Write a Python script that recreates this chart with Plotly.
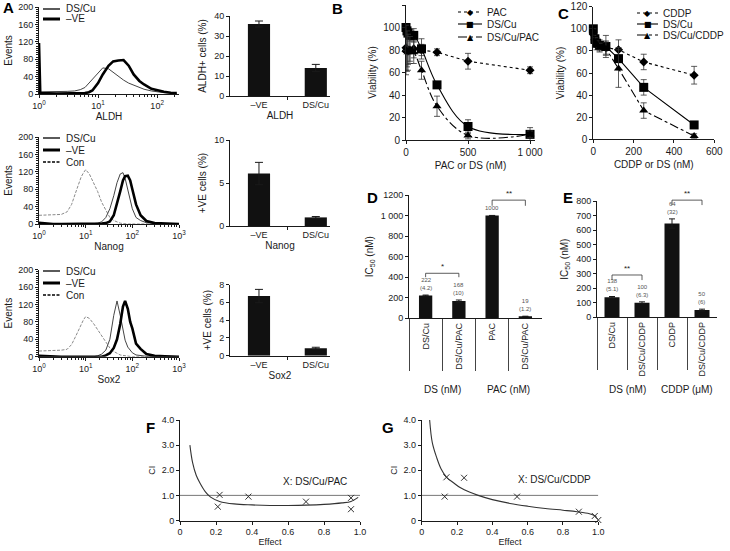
import plotly.graph_objects as go

W, H = 730, 551
FONT = "Liberation Sans, Arial, sans-serif"
SYMFONT = "DejaVu Sans"
INK = "#1a1a1a"

# ---------------- data ----------------
# Panel A - flow cytometry histograms (fluorescence intensity vs events)
aldh_fl = [1, 1.05, 2, 3, 4, 5, 6, 7, 8, 10, 12, 15, 18, 22, 27, 33, 40, 50, 60, 80, 100, 130, 170, 215]
aldh_dscu = [5, 5, 5, 6, 7, 10, 15, 25, 35, 50, 60, 58, 50, 40, 32, 25, 20, 15, 11, 7, 5, 3, 2, 1]
aldh_ve = [117, 2, 1, 1, 1, 1, 2, 4, 8, 25, 45, 65, 75, 77, 78, 65, 45, 30, 22, 12, 8, 5, 3, 2]

marker_fl = [1, 2, 3, 4, 5, 6, 7, 8, 9, 10, 12, 15, 18, 22, 27, 33, 40, 47, 55, 63,
             70, 80, 90, 100, 120, 150, 200, 300, 500, 1000]
nanog_con = [20, 22, 22, 28, 45, 70, 90, 108, 118, 125, 115, 95, 75, 50, 32, 15, 8, 4, 2, 1,
             0, 0, 0, 0, 0, 0, 0, 0, 0, 0]
nanog_dscu = [0, 0, 0, 0, 0, 0, 0, 0, 0, 0, 0, 1, 2, 5, 15, 35, 65, 95, 115, 118,
              105, 80, 55, 35, 15, 8, 3, 1, 0, 0]
nanog_ve = [3, 0, 0, 0, 0, 0, 0, 0, 0, 0, 0, 0, 0, 1, 2, 6, 20, 45, 75, 100,
            110, 111, 100, 80, 45, 20, 7, 2, 1, 0]
sox2_con = [13, 14, 15, 17, 28, 45, 60, 75, 85, 92, 88, 75, 62, 50, 35, 20, 12, 7, 4, 3,
            2, 1, 0, 0, 0, 0, 0, 0, 0, 0]
sox2_dscu = [0, 0, 0, 0, 0, 0, 0, 0, 0, 0, 0, 0, 2, 6, 15, 40, 95, 128, 95, 60,
             38, 22, 14, 9, 4, 2, 1, 0, 0, 0]
sox2_ve = [2, 0, 0, 0, 0, 0, 0, 0, 0, 0, 0, 0, 0, 0, 3, 8, 20, 40, 75, 115,
           128, 110, 80, 65, 30, 18, 6, 2, 1, 0]

# Panel A - bar charts
bar_groups = ["–VE", "DS/Cu"]
aldh_pct = [36, 14]
aldh_err = [1.5, 1.8]
nanog_pct = [6.1, 1.0]
nanog_err = [1.3, 0.1]
sox2_pct = [6.7, 0.85]
sox2_err = [0.75, 0.1]

# Panel B - viability vs PAC or DS (nM)
b_conc = [0, 7.8, 15.6, 31.25, 62.5, 125, 250, 500, 1000]
b_pac = [82, 80, 79, 80, 81, 80, 78, 70, 62]
b_pac_err = [20, 15, 12, 10, 8, 5, 3, 7, 3]
b_dscu = [100, 97, 95, 93, 93, 81, 49, 12, 5]
b_dscu_err = [2, 3, 4, 5, 6, 9, 3, 6, 6]
b_combo = [80, 79, 78, 80, 78, 62, 30, 4, 5]
b_combo_err = [22, 18, 16, 12, 10, 8, 9, 3, 3]

# Panel C - viability vs CDDP or DS (nM)
c_conc = [0, 7.8, 15.6, 31.25, 62.5, 125, 250, 500]
c_cddp = [95, 90, 88, 85, 83, 81, 70, 58]
c_cddp_err = [3, 4, 4, 5, 6, 9, 7, 8]
c_dscu = [100, 91, 87, 85, 84, 73, 47, 13]
c_dscu_err = [2, 3, 4, 4, 10, 10, 7, 2]
c_combo = [97, 88, 85, 83, 82, 64, 26, 3]
c_combo_err = [3, 4, 4, 4, 6, 17, 7, 2]

# Panel D - IC50
d_cats = ["DS/Cu", "DS/Cu/PAC", "PAC", "DS/Cu/PAC"]
d_ic50 = [222, 168, 1000, 19]
d_sd = [4.2, 10, 1.2, 1.2]
d_labels = ["222<br>(4.2)", "168<br>(10)", "1000", "19<br>(1.2)"]
d_groups = ["DS (nM)", "PAC (nM)"]
d_sig = [(0, 1, "*", 400, 438), (2, 3, "**", 1095, 1150)]

# Panel E - IC50
e_cats = ["DS/Cu", "DS/Cu/CDDP", "CDDP", "DS/Cu/CDDP"]
e_ic50 = [138, 100, 645, 50]
e_sd = [5.1, 6.3, 32, 6]
e_labels = ["138<br>(5.1)", "100<br>(6.3)", "64<br>(32)", "50<br>(6)"]
e_groups = ["DS (nM)", "CDDP (μM)"]
e_sig = [(0, 1, "**", 256, 291), (2, 3, "**", 772, 806)]

# Panels F, G - combination index vs effect
f_eff_curve = [0.055, 0.07, 0.09, 0.11, 0.14, 0.17, 0.22, 0.3, 0.4, 0.5, 0.6, 0.7, 0.8, 0.9, 0.95, 0.99]
f_ci_curve = [3.0, 2.3, 1.8, 1.5, 1.15, 0.93, 0.76, 0.66, 0.62, 0.6, 0.6, 0.61, 0.64, 0.7, 0.76, 0.92]
f_eff_pts = [0.21, 0.22, 0.38, 0.70, 0.95, 0.95]
f_ci_pts = [0.55, 1.02, 0.95, 0.75, 0.9, 0.45]
g_eff_curve = [0.045, 0.06, 0.085, 0.11, 0.14, 0.18, 0.22, 0.27, 0.32, 0.4, 0.5, 0.6, 0.7, 0.8, 0.88, 0.95, 0.99]
g_ci_curve = [4.0, 3.1, 2.5, 2.05, 1.73, 1.5, 1.3, 1.13, 1.0, 0.83, 0.68, 0.57, 0.48, 0.41, 0.35, 0.27, 0.16]
g_eff_pts = [0.13, 0.14, 0.24, 0.54, 0.89, 0.98, 1.0]
g_ci_pts = [0.95, 1.72, 1.7, 0.95, 0.35, 0.18, 0.02]
additive_eff = [0, 1]
additive_ci = [1, 1]


# ---------------- helpers ----------------
def xd(a, b):
    return [a / W, b / W]


def yd(top, bottom):
    return [1 - bottom / H, 1 - top / H]


def px(x):
    return x / W


def py(y):
    return 1 - y / H


def xa(n):
    return "x" if n == 1 else f"x{n}"


def ya(n):
    return "y" if n == 1 else f"y{n}"


def xk(n):
    return "xaxis" if n == 1 else f"xaxis{n}"


def yk(n):
    return "yaxis" if n == 1 else f"yaxis{n}"


def val_to_paper(v, rng, dom):
    return dom[0] + (v - rng[0]) / (rng[1] - rng[0]) * (dom[1] - dom[0])


def base(size=9, **kw):
    d = dict(showline=True, linecolor=INK, linewidth=1, ticks="outside", ticklen=3,
             tickwidth=1, tickcolor=INK, showgrid=False, zeroline=False, automargin=False,
             tickfont=dict(size=size, color=INK, family=FONT))
    d.update(kw)
    return d


def ttl(text, standoff=4, size=10):
    return dict(text=text, standoff=standoff, font=dict(size=size, color=INK, family=FONT))


fig = go.Figure()
layout = dict(template="none", width=W, height=H, margin=dict(l=0, r=0, t=0, b=0, autoexpand=False),
              paper_bgcolor="white", plot_bgcolor="rgba(0,0,0,0)",
              font=dict(family=FONT, size=10, color=INK), showlegend=False)
annotations = []
shapes = []


def legend_block(entries, x0, x1, xt, ys, size=10):
    """entries: list of (label, dash, width, symbol)"""
    for (label, dash, width, sym), y in zip(entries, ys):
        shapes.append(dict(type="line", xref="paper", yref="paper", x0=px(x0), x1=px(x1),
                           y0=py(y), y1=py(y), line=dict(color="#000", width=width, dash=dash)))
        if sym:
            annotations.append(dict(x=px((x0 + x1) / 2), y=py(y), xref="paper", yref="paper", text=sym,
                                    showarrow=False, xanchor="center", yanchor="middle",
                                    font=dict(size=8, color="#000", family=SYMFONT)))
        annotations.append(dict(x=px(xt), y=py(y), xref="paper", yref="paper", text=label,
                                showarrow=False, xanchor="left", yanchor="middle",
                                font=dict(size=size, color=INK, family=FONT)))


# ---------------- Panel A histograms ----------------
log_minor = [m * 10 ** e for e in range(0, 3) for m in range(2, 10)]
hist_specs = [
    (1, aldh_fl, aldh_dscu, aldh_ve, None, 7, 94, 2.37, "ALDH", [1, 10, 100], [9, 19]),
    (2, marker_fl, nanog_dscu, nanog_ve, nanog_con, 137, 224, 3.0, "Nanog", [1, 10, 100, 1000], [138, 150, 162]),
    (3, marker_fl, sox2_dscu, sox2_ve, sox2_con, 269.6, 356.7, 3.0, "Sox2", [1, 10, 100, 1000], [271, 283, 295]),
]
for n, xs, dscu, ve, con, top, bot, xmax, label, tv, lys in hist_specs:
    if con is not None:
        fig.add_trace(go.Scatter(x=xs, y=con, mode="lines", name="Con",
                                 line=dict(color="#8a8a8a", width=1, dash="3px,1.5px"),
                                 xaxis=xa(n), yaxis=ya(n)))
    fig.add_trace(go.Scatter(x=xs, y=dscu, mode="lines", name="DS/Cu",
                             line=dict(color="#444", width=1), xaxis=xa(n), yaxis=ya(n)))
    fig.add_trace(go.Scatter(x=xs, y=ve, mode="lines", name="–VE",
                             line=dict(color="#000", width=2.6), xaxis=xa(n), yaxis=ya(n)))
    entries = [("DS/Cu", "solid", 1.3, None), ("–VE", "solid", 3, None)]
    if con is not None:
        entries.append(("Con", "3px,1.5px", 1.3, None))
    legend_block(entries, 43, 60, 64, lys, size=10)
    layout[xk(n)] = base(domain=xd(39, 179), anchor=ya(n), type="log", range=[0, xmax],
                         tickvals=tv, ticktext=[f"10<sup>{i}</sup>" for i in range(len(tv))],
                         minor=dict(tickvals=log_minor, ticks="outside", ticklen=2, tickcolor=INK),
                         title=ttl(label, 3))
    layout[yk(n)] = base(domain=yd(top, bot), anchor=xa(n), range=[0, 200], tick0=0, dtick=40,
                         minor=dict(dtick=5, ticks="outside", ticklen=2, tickcolor=INK),
                         title=ttl("Events", 3))

# ---------------- Panel A bars ----------------
bar_specs = [
    (4, aldh_pct, aldh_err, 16, 96, [0, 40], 10, "ALDH+ cells (%)", "ALDH"),
    (5, nanog_pct, nanog_err, 140, 226, [0, 10], 5, "+VE cells (%)", "Nanog"),
    (6, sox2_pct, sox2_err, 284.5, 355.7, [0, 8], 2, "+VE cells (%)", "Sox2"),
]
for n, vals, errs, top, bot, rng, dt, ytitle, xtitle in bar_specs:
    fig.add_trace(go.Bar(x=[0, 1], y=vals, width=0.39, marker=dict(color="#111", line=dict(width=0)),
                         error_y=dict(type="data", array=errs, visible=True, color=INK, thickness=1, width=4),
                         xaxis=xa(n), yaxis=ya(n)))
    layout[xk(n)] = base(domain=xd(230, 330), anchor=ya(n), range=[-0.51, 1.25],
                         tickvals=[0, 1], ticktext=bar_groups, ticks="",
                         minor=dict(tickvals=[0.5], ticks="outside", ticklen=3, tickcolor=INK),
                         title=ttl(xtitle, 3))
    layout[yk(n)] = base(domain=yd(top, bot), anchor=xa(n), range=rng, tick0=0, dtick=dt,
                         title=ttl(ytitle, 5))

# ---------------- Panel B ----------------
curve_style = [
    ("PAC", b_pac, b_pac_err, "diamond", 7, "dot", "linear", "◆"),
    ("DS/Cu", b_dscu, b_dscu_err, "square", 9, "solid", "spline", "■"),
    ("DS/Cu/PAC", b_combo, b_combo_err, "triangle-up", 8, "dashdot", "spline", "▲"),
]
for name, vals, errs, sym, sz, dash, shape, glyph in curve_style:
    fig.add_trace(go.Scatter(x=b_conc, y=vals, name=name, mode="lines+markers",
                             marker=dict(symbol=sym, size=sz, color="#000"),
                             line=dict(color="#000", width=1.1, dash=dash, shape=shape),
                             error_y=dict(type="data", array=errs, visible=True, color="#333", thickness=0.8, width=3),
                             cliponaxis=False, xaxis="x7", yaxis="y7"))
legend_block([(c[0], c[5], 1.1, c[7]) for c in curve_style], 458, 482, 485, [12, 24, 37])
layout["xaxis7"] = base(size=10, domain=xd(406, 535), anchor="y7", range=[0, 1040],
                        tickvals=[0, 500, 1000], ticktext=["0", "500", "1 000"],
                        title=ttl("PAC or DS (nM)", 4))
layout["yaxis7"] = base(size=10, domain=yd(5, 140), anchor="x7", range=[0, 120], dtick=20,
                        title=ttl("Viability (%)", 4))

# ---------------- Panel C ----------------
c_style = [
    ("CDDP", c_cddp, c_cddp_err, "diamond", 7, "dot", "◆"),
    ("DS/Cu", c_dscu, c_dscu_err, "square", 9, "solid", "■"),
    ("DS/Cu/CDDP", c_combo, c_combo_err, "triangle-up", 8, "dashdot", "▲"),
]
for name, vals, errs, sym, sz, dash, glyph in c_style:
    fig.add_trace(go.Scatter(x=c_conc, y=vals, name=name, mode="lines+markers",
                             marker=dict(symbol=sym, size=sz, color="#000"),
                             line=dict(color="#000", width=1.1, dash=dash),
                             error_y=dict(type="data", array=errs, visible=True, color="#333", thickness=0.8, width=3),
                             cliponaxis=False, xaxis="x8", yaxis="y8"))
legend_block([(c[0], c[5], 1.1, c[6]) for c in c_style], 637, 658, 661, [13, 24, 35])
layout["xaxis8"] = base(size=10, domain=xd(593.3, 714.3), anchor="y8", range=[0, 600], dtick=200,
                        title=ttl("CDDP or DS (nM)", 4))
layout["yaxis8"] = base(size=10, domain=yd(6.7, 139.3), anchor="x8", range=[0, 120], dtick=20,
                        title=ttl("Viability (%)", 4))

# ---------------- Panels D and E ----------------
ic_specs = [
    (9, d_cats, d_ic50, d_sd, d_labels, d_groups, d_sig, xd(409, 542), yd(195, 318.3), [0, 1200], 200,
     ["0", "200", "400", "600", "800", "1 000", "1200"], 0.4),
    (10, e_cats, e_ic50, e_sd, e_labels, e_groups, e_sig, xd(597, 717), yd(201, 317.3), [0, 800], 100,
     None, 0.5),
]
for n, cats, vals, sds, labels, groups, sig, xdom, ydom, rng, dt, ytext, bw in ic_specs:
    idx = list(range(len(cats)))
    fig.add_trace(go.Bar(x=idx, y=vals, width=bw, marker=dict(color="#111", line=dict(width=0)),
                         error_y=dict(type="data", array=sds, visible=True, color=INK, thickness=1, width=3),
                         xaxis=xa(n), yaxis=ya(n)))
    for i, v, s, lab in zip(idx, vals, sds, labels):
        annotations.append(dict(x=i, y=val_to_paper(v + s, rng, ydom), xref=xa(n), yref="paper", text=lab,
                                showarrow=False, yanchor="bottom", yshift=2,
                                font=dict(size=6, color="#555", family=FONT)))
    for a, b, star, yleg, ytop in sig:
        yl = val_to_paper(yleg, rng, ydom)
        yt = val_to_paper(ytop, rng, ydom)
        for xx0, yy0, xx1, yy1 in [(a, yl, a, yt), (a, yt, b, yt), (b, yt, b, yl)]:
            shapes.append(dict(type="line", xref=xa(n), yref="paper", x0=xx0, y0=yy0, x1=xx1, y1=yy1,
                               line=dict(color="#333", width=0.8)))
        annotations.append(dict(x=(a + b) / 2, y=yt, xref=xa(n), yref="paper", text=star, showarrow=False,
                                yanchor="bottom", yshift=0, font=dict(size=8, color=INK, family=FONT)))
    for k, g in enumerate(groups):
        annotations.append(dict(x=2 * k + 0.5, y=py(389), xref=xa(n), yref="paper", text=g, showarrow=False,
                                yanchor="middle", font=dict(size=10, color=INK, family=FONT)))
    ykw = dict(tickvals=list(range(rng[0], rng[1] + 1, dt)), ticktext=ytext) if ytext else dict(dtick=dt)
    layout[xk(n)] = base(size=9, domain=xdom, anchor=ya(n), range=[-0.5, 3.5],
                         tickvals=idx, ticktext=cats, ticks="", tickangle=-90,
                         minor=dict(tickvals=[-0.5, 0.5, 1.5, 2.5], ticks="outside", ticklen=52,
                                    tickcolor="#444", tickwidth=1))
    layout[yk(n)] = base(size=9, domain=ydom, anchor=xa(n), range=rng,
                         title=ttl("IC<sub>50</sub> (nM)", 5), **ykw)

# ---------------- Panels F and G ----------------
ci_specs = [
    (11, f_eff_curve, f_ci_curve, f_eff_pts, f_ci_pts, xd(180, 360), "X: DS/Cu/PAC", 1.55),
    (12, g_eff_curve, g_ci_curve, g_eff_pts, g_ci_pts, xd(421.7, 598.3), "X: DS/Cu/CDDP", 1.65),
]
for n, ex, cy, px_, py_, xdom, lab, laby in ci_specs:
    fig.add_trace(go.Scatter(x=additive_eff, y=additive_ci, mode="lines",
                             line=dict(color="#777", width=1), xaxis=xa(n), yaxis=ya(n)))
    fig.add_trace(go.Scatter(x=ex, y=cy, mode="lines",
                             line=dict(color="#333", width=1.1, shape="spline"), xaxis=xa(n), yaxis=ya(n)))
    fig.add_trace(go.Scatter(x=px_, y=py_, mode="markers", cliponaxis=False,
                             marker=dict(symbol="x-thin", size=6, line=dict(color="#333", width=1)),
                             xaxis=xa(n), yaxis=ya(n)))
    annotations.append(dict(x=0.75, y=laby, xref=xa(n), yref=ya(n), text=lab, showarrow=False,
                            font=dict(size=10, color=INK, family=FONT)))
    layout[xk(n)] = base(size=9, domain=xdom, anchor=ya(n), range=[0, 1.0],
                         tickvals=[0, 0.2, 0.4, 0.6, 0.8, 1.0],
                         ticktext=["0", "0.2", "0.4", "0.6", "0.8", "1.0"],
                         title=ttl("Effect", 2, 9))
    layout[yk(n)] = base(size=9, domain=yd(420, 520.5), anchor=xa(n), range=[0, 4],
                         tickvals=[0, 1, 2, 3, 4], ticktext=["0", "1.0", "2.0", "3.0", "4.0"],
                         title=ttl("CI", 4, 9))

# ---------------- panel letters ----------------
for letter, x, y in [("A", 8, 8), ("B", 337, 9), ("C", 563, 13), ("D", 373, 197),
                     ("E", 568, 197), ("F", 150, 427), ("G", 388, 427)]:
    annotations.append(dict(x=px(x), y=py(y), xref="paper", yref="paper", text=f"<b>{letter}</b>",
                            showarrow=False, xanchor="center", yanchor="middle",
                            font=dict(size=15, color="#000", family=FONT)))

layout["annotations"] = annotations
layout["shapes"] = shapes
fig.update_layout(**layout)
fig.write_html("out.html",
               config={"displayModeBar": False},
               post_script="document.body.style.margin='0';document.body.style.padding='0';"
                           "document.body.style.overflow='hidden';")
